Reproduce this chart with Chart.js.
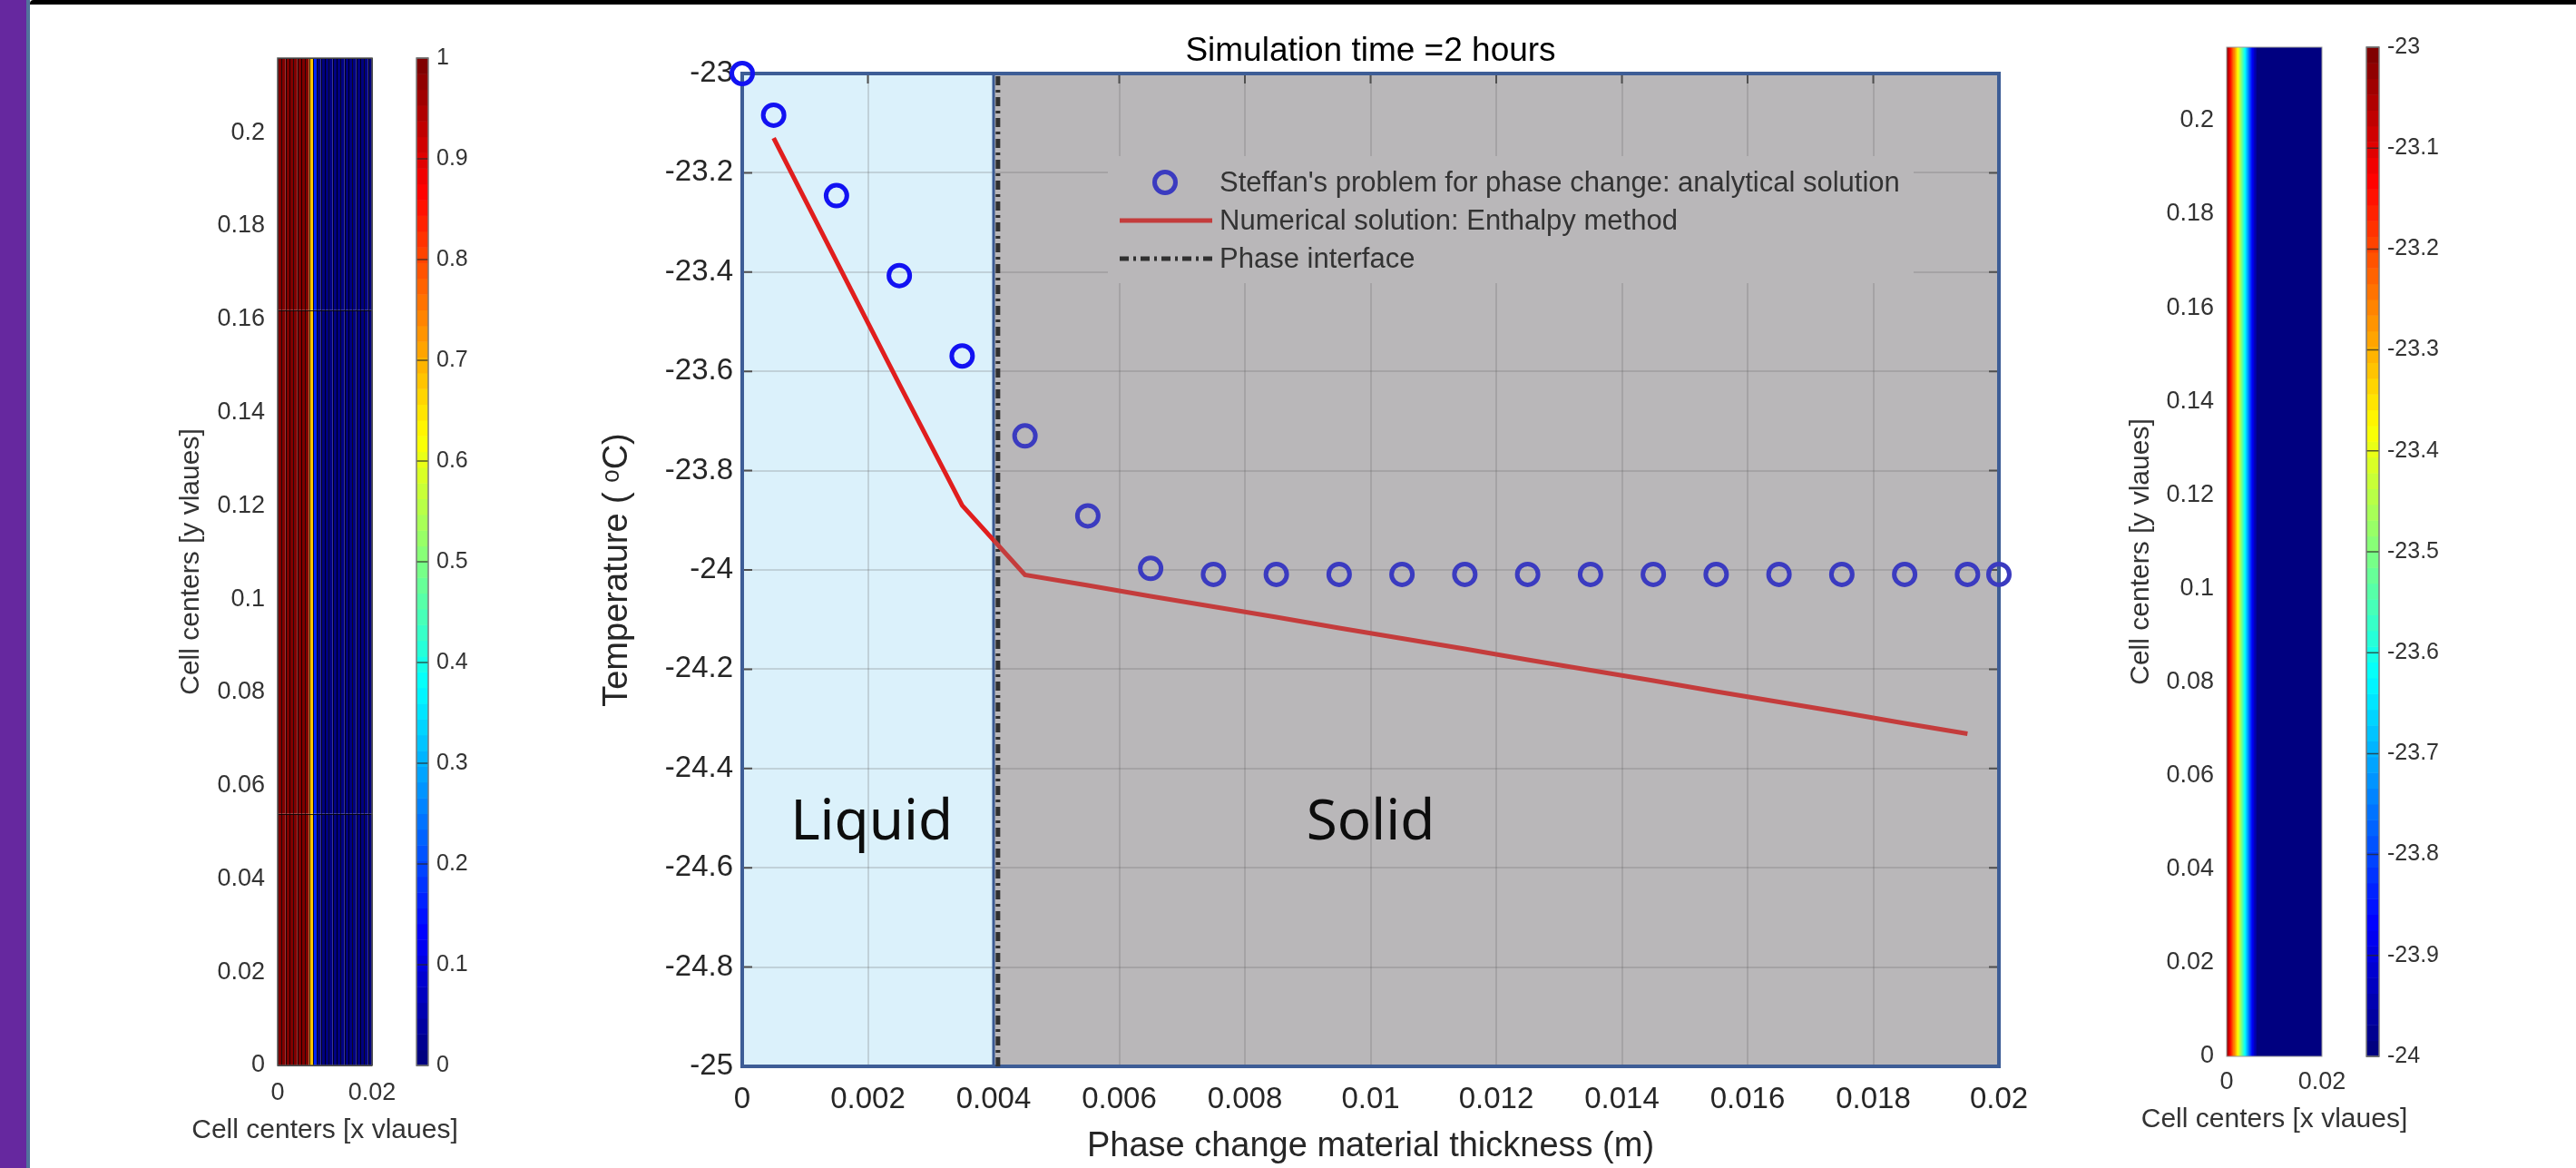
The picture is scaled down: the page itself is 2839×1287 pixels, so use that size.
<!DOCTYPE html>
<html>
<head>
<meta charset="utf-8">
<title>Simulation time =2 hours</title>
<script src="https://cdn.jsdelivr.net/npm/chart.js@4.4.1/dist/chart.umd.min.js"></script>
<style>
  html, body { margin: 0; padding: 0; background: #fff; }
  #page { position: relative; width: 2839px; height: 1287px; overflow: hidden; background: #fff; }
  #page canvas { position: absolute; left: 0; top: 0; }
  .strip { position: absolute; left: 0; top: 0; width: 29px; height: 1287px; background: #66289f; }
  .edge { position: absolute; left: 29px; top: 0; width: 4px; height: 1287px; background: #52729c; }
  .topbar { position: absolute; left: 33px; top: 0; right: 0; height: 5px; background: #000; border-top-left-radius: 4px; }
</style>
</head>
<body>
<div id="page">
  <div class="strip"></div>
  <div class="edge"></div>
  <div class="topbar"></div>
  <canvas id="heatL" width="2839" height="1287"></canvas>
  <canvas id="barL" width="2839" height="1287"></canvas>
  <canvas id="main" width="2839" height="1287"></canvas>
  <canvas id="heatR" width="2839" height="1287"></canvas>
  <canvas id="barR" width="2839" height="1287"></canvas>
</div>
<script>
/*---------------------------------
   DATA
 ----------------------------------*/
// Stefan problem, analytical solution (circles)
var xAnalytical = [0, 0.0005, 0.0015, 0.0025, 0.0035, 0.0045, 0.0055, 0.0065, 0.0075, 0.0085, 0.0095,
    0.0105, 0.0115, 0.0125, 0.0135, 0.0145, 0.0155, 0.0165, 0.0175, 0.0185, 0.0195, 0.02];
var tAnalytical = [-23.0, -23.084, -23.246, -23.407, -23.569, -23.73, -23.891, -23.997, -24.009, -24.009, -24.009,
    -24.009, -24.009, -24.009, -24.009, -24.009, -24.009, -24.009, -24.009, -24.009, -24.009, -24.009];

// enthalpy method, numerical solution (red line)
var xNumerical = [0.0005, 0.0015, 0.0025, 0.0035, 0.0045, 0.0055, 0.0065, 0.0075, 0.0085, 0.0095,
    0.0105, 0.0115, 0.0125, 0.0135, 0.0145, 0.0155, 0.0165, 0.0175, 0.0185, 0.0195];
var tNumerical = [-23.13, -23.378, -23.626, -23.87, -24.01, -24.031, -24.053, -24.074, -24.095, -24.117,
    -24.138, -24.159, -24.181, -24.202, -24.223, -24.245, -24.266, -24.287, -24.309, -24.33];

// phase interface
var xInterface = [0.00407, 0.00407];
var tInterface = [-25, -23];

var liquidRange = [0, 0.004];
var solidRange = [0.004, 0.02];
var regionNames = ['Liquid', 'Solid'];
var regionLabelX = [0.00206, 0.01];
var regionLabelT = -24.51;

var mainXTicks = [0, 0.002, 0.004, 0.006, 0.008, 0.01, 0.012, 0.014, 0.016, 0.018, 0.02];
var mainYTicks = [-25, -24.8, -24.6, -24.4, -24.2, -24, -23.8, -23.6, -23.4, -23.2, -23];

// liquid fraction field (left, faceted cells)
var cellEdgesX = [0, 0.00083, 0.00167, 0.0025, 0.00333, 0.00417, 0.005, 0.00583, 0.00667, 0.0075, 0.00833,
    0.00917, 0.01, 0.01083, 0.01167, 0.0125, 0.01333, 0.01417, 0.015, 0.01583, 0.01667, 0.0175, 0.01833,
    0.01917, 0.02];
var cellEdgesY = [0, 0.054, 0.162, 0.216];
var liquidFraction = [1, 1, 1, 1, 1, 1, 1, 1, 0.68, 0.16, 0, 0, 0, 0, 0, 0, 0, 0, 0, 0, 0, 0, 0, 0];

// temperature field (right, interpolated shading) uses xAnalytical / tAnalytical
var fieldTopY = 0.2157;

var heatXTicks = [0, 0.02];
var heatYTicks = [0, 0.02, 0.04, 0.06, 0.08, 0.1, 0.12, 0.14, 0.16, 0.18, 0.2];
var fractionTicks = [0, 0.1, 0.2, 0.3, 0.4, 0.5, 0.6, 0.7, 0.8, 0.9, 1];
var tempTicks = [-24, -23.9, -23.8, -23.7, -23.6, -23.5, -23.4, -23.3, -23.2, -23.1, -23];

/*---------------------------------
   HELPERS
 ----------------------------------*/
var FONT = "'Liberation Sans', Arial, 'DejaVu Sans', sans-serif";

function fixW(w) { return function (s) { s.width = w; }; }
function fixH(h) { return function (s) { s.height = h; }; }
function setTicks(list) {
    return function (s) { s.ticks = list.map(function (v) { return { value: v }; }); };
}
function fmt(v) { return String(+Number(v).toFixed(4)); }

function jet(v) {
    v = Math.max(0, Math.min(1, v));
    var r = Math.max(0, Math.min(1, 1.5 - Math.abs(4 * v - 3)));
    var g = Math.max(0, Math.min(1, 1.5 - Math.abs(4 * v - 2)));
    var b = Math.max(0, Math.min(1, 1.5 - Math.abs(4 * v - 1)));
    return 'rgb(' + Math.round(r * 255) + ',' + Math.round(g * 255) + ',' + Math.round(b * 255) + ')';
}
function jet64(v) {
    var k = Math.min(63, Math.floor(Math.max(0, Math.min(1, v)) * 64));
    return jet(k / 63);
}
function interp(xs, ys, x) {
    if (x <= xs[0]) return ys[0];
    for (var i = 1; i < xs.length; i++) {
        if (x <= xs[i]) {
            var t = (x - xs[i - 1]) / (xs[i] - xs[i - 1]);
            return ys[i - 1] + t * (ys[i] - ys[i - 1]);
        }
    }
    return ys[ys.length - 1];
}
function pts(xs, ys) { return xs.map(function (x, i) { return { x: x, y: ys[i] }; }); }

var base = {
    responsive: false,
    animation: false,
    devicePixelRatio: 1,
    events: []
};
function opts(extra) { return Object.assign({}, base, extra); }

/*---------------------------------
   HEATMAP PLUGINS
 ----------------------------------*/
var facetedCells = {
    id: 'facetedCells',
    beforeDatasetsDraw: function (chart) {
        var ctx = chart.ctx, xs = chart.scales.x, ys = chart.scales.y, a = chart.chartArea;
        ctx.save();
        for (var j = 0; j < cellEdgesY.length - 1; j++) {
            var y0 = ys.getPixelForValue(cellEdgesY[j]), y1 = ys.getPixelForValue(cellEdgesY[j + 1]);
            for (var i = 0; i < liquidFraction.length; i++) {
                var x0 = xs.getPixelForValue(cellEdgesX[i]), x1 = xs.getPixelForValue(cellEdgesX[i + 1]);
                ctx.fillStyle = jet64(liquidFraction[i]);
                ctx.fillRect(x0, y1, x1 - x0, y0 - y1);
            }
        }
        ctx.strokeStyle = 'rgba(0,0,0,0.8)';
        ctx.lineWidth = 1;
        ctx.beginPath();
        cellEdgesX.forEach(function (v) {
            var p = Math.round(xs.getPixelForValue(v)) + 0.5;
            ctx.moveTo(p, a.top); ctx.lineTo(p, a.bottom);
        });
        cellEdgesY.forEach(function (v) {
            var p = Math.round(ys.getPixelForValue(v)) + 0.5;
            ctx.moveTo(a.left, p); ctx.lineTo(a.right, p);
        });
        ctx.stroke();
        ctx.strokeStyle = '#555';
        ctx.lineWidth = 1.5;
        ctx.strokeRect(a.left, a.top, a.right - a.left, a.bottom - a.top);
        ctx.restore();
    }
};

var smoothField = {
    id: 'smoothField',
    beforeDatasetsDraw: function (chart) {
        var ctx = chart.ctx, xs = chart.scales.x, a = chart.chartArea;
        ctx.save();
        for (var px = Math.floor(a.left); px < a.right; px++) {
            var v = xs.getValueForPixel(px + 0.5);
            var t = interp(xAnalytical, tAnalytical, v);
            ctx.fillStyle = jet64(t + 24);
            ctx.fillRect(px, a.top, 1, a.bottom - a.top);
        }
        ctx.strokeStyle = '#9a9a9a';
        ctx.lineWidth = 1;
        ctx.strokeRect(a.left, a.top, a.right - a.left, a.bottom - a.top);
        ctx.restore();
    }
};

// x-axis caption wider than the narrow heatmap axes
var xCaption = {
    id: 'xCaption',
    afterDraw: function (chart, args, o) {
        var a = chart.chartArea, ctx = chart.ctx;
        ctx.save();
        ctx.fillStyle = '#333';
        ctx.font = '30px ' + FONT;
        ctx.textAlign = 'center';
        ctx.textBaseline = 'middle';
        ctx.fillText(o.text, (a.left + a.right) / 2 + (o.dx || 0), o.y);
        ctx.restore();
    }
};

var colorStrip = {
    id: 'colorStrip',
    beforeDatasetsDraw: function (chart) {
        var ctx = chart.ctx, ys = chart.scales.y, a = chart.chartArea;
        var lo = ys.min, hi = ys.max;
        ctx.save();
        for (var k = 0; k < 64; k++) {
            var p0 = ys.getPixelForValue(lo + (hi - lo) * k / 64);
            var p1 = ys.getPixelForValue(lo + (hi - lo) * (k + 1) / 64);
            ctx.fillStyle = jet(k / 63);
            ctx.fillRect(a.left, p1, a.right - a.left, p0 - p1 + 0.5);
        }
        ctx.strokeStyle = 'rgba(40,40,40,0.75)';
        ctx.lineWidth = 1.5;
        ctx.beginPath();
        ys.ticks.forEach(function (t) {
            var p = ys.getPixelForValue(t.value);
            ctx.moveTo(a.left, p); ctx.lineTo(a.right, p);
        });
        ctx.stroke();
        ctx.strokeStyle = '#7a7a7a';
        ctx.lineWidth = 1.5;
        ctx.strokeRect(a.left, a.top, a.right - a.left, a.bottom - a.top);
        ctx.restore();
    }
};

function heatScales(top, yW, xH, tickPadX) {
    return {
        x: {
            type: 'linear', min: 0, max: 0.02,
            afterBuildTicks: setTicks(heatXTicks), afterFit: fixH(xH),
            grid: { display: false, drawTicks: false }, border: { display: false },
            ticks: { padding: tickPadX, color: '#333', font: { family: FONT, size: 27 }, callback: fmt, maxRotation: 0, autoSkip: false }
        },
        y: {
            type: 'linear', min: 0, max: top,
            afterBuildTicks: setTicks(heatYTicks), afterFit: fixW(yW),
            grid: { display: false, drawTicks: false }, border: { display: false },
            ticks: { padding: 14, color: '#333', font: { family: FONT, size: 27 }, callback: fmt, autoSkip: false },
            title: { display: true, text: 'Cell centers [y vlaues]', color: '#333', font: { family: FONT, size: 30, lineHeight: 1 }, padding: 0 }
        }
    };
}

function barScales(lo, hi, list) {
    return {
        x: { type: 'linear', display: false, min: 0, max: 1 },
        y: {
            type: 'linear', position: 'right', min: lo, max: hi,
            afterBuildTicks: setTicks(list), afterFit: fixW(150),
            grid: { display: false, drawTicks: false }, border: { display: false },
            ticks: { padding: 9, color: '#333', font: { family: FONT, size: 25 }, callback: fmt, autoSkip: false }
        }
    };
}

var noPlugins = { legend: { display: false }, title: { display: false }, tooltip: { enabled: false } };
function withCaption(y) {
    return Object.assign({}, noPlugins, { xCaption: { text: 'Cell centers [x vlaues]', y: y } });
}

/*---------------------------------
   LEFT: LIQUID FRACTION
 ----------------------------------*/
new Chart(document.getElementById('heatL'), {
    type: 'scatter',
    data: { datasets: [] },
    options: opts({
        layout: { padding: { left: 195.5, right: 2429, top: 64, bottom: 26.5 } },
        plugins: withCaption(1246),
        scales: heatScales(cellEdgesY[cellEdgesY.length - 1], 110.5, 86.5, 14)
    }),
    plugins: [facetedCells, xCaption]
});

new Chart(document.getElementById('barL'), {
    type: 'scatter',
    data: { datasets: [] },
    options: opts({
        layout: { padding: { left: 459, right: 2839 - 472 - 150, top: 64, bottom: 113 } },
        plugins: noPlugins,
        scales: barScales(0, 1, fractionTicks)
    }),
    plugins: [colorStrip]
});

/*---------------------------------
   RIGHT: TEMPERATURE FIELD
 ----------------------------------*/
new Chart(document.getElementById('heatR'), {
    type: 'scatter',
    data: { datasets: [] },
    options: opts({
        layout: { padding: { left: 2344.5, right: 280, top: 52, bottom: 38.5 } },
        plugins: withCaption(1234),
        scales: heatScales(fieldTopY, 109.5, 84.5, 12)
    }),
    plugins: [smoothField, xCaption]
});

new Chart(document.getElementById('barR'), {
    type: 'scatter',
    data: { datasets: [] },
    options: opts({
        layout: { padding: { left: 2608, right: 2839 - 2622 - 150, top: 52, bottom: 1287 - 1164 } },
        plugins: noPlugins,
        scales: barScales(-24, -23, tempTicks)
    }),
    plugins: [colorStrip]
});

/*---------------------------------
   MAIN PLOT
 ----------------------------------*/
var LIQ_BLUE = '#1212f2', SOL_BLUE = '#3b3bc0';
var LIQ_RED = '#e01e1e', SOL_RED = '#c43c3c';

function redSplit(c) {
    var ch = c.chart, a = ch.chartArea;
    if (!a || !ch.scales.x) return SOL_RED;
    var px = ch.scales.x.getPixelForValue(liquidRange[1]);
    var f = Math.max(0, Math.min(1, (px - a.left) / (a.right - a.left)));
    var g = ch.ctx.createLinearGradient(a.left, 0, a.right, 0);
    g.addColorStop(0, LIQ_RED); g.addColorStop(f, LIQ_RED);
    g.addColorStop(f, SOL_RED); g.addColorStop(1, SOL_RED);
    return g;
}

var phasePlot = {
    id: 'phasePlot',
    beforeDraw: function (chart) {
        var a = chart.chartArea, xs = chart.scales.x, ctx = chart.ctx;
        var l0 = xs.getPixelForValue(liquidRange[0]), l1 = xs.getPixelForValue(liquidRange[1]);
        var s1 = xs.getPixelForValue(solidRange[1]);
        ctx.save();
        ctx.fillStyle = '#dbf1fb';
        ctx.fillRect(l0, a.top, l1 - l0, a.bottom - a.top);
        ctx.fillStyle = '#b9b7b9';
        ctx.fillRect(l1, a.top, s1 - l1, a.bottom - a.top);
        ctx.restore();
    },
    beforeDatasetsDraw: function (chart) {
        var a = chart.chartArea, xs = chart.scales.x, ys = chart.scales.y, ctx = chart.ctx;
        ctx.save();
        // inward tick marks
        ctx.strokeStyle = '#505050';
        ctx.lineWidth = 2;
        ctx.beginPath();
        xs.ticks.forEach(function (t) {
            var p = xs.getPixelForValue(t.value);
            ctx.moveTo(p, a.top); ctx.lineTo(p, a.top + 11);
        });
        ys.ticks.forEach(function (t) {
            var p = ys.getPixelForValue(t.value);
            ctx.moveTo(a.left, p); ctx.lineTo(a.left + 11, p);
            ctx.moveTo(a.right, p); ctx.lineTo(a.right - 11, p);
        });
        ctx.stroke();
        // liquid box and axes frame
        var l0 = xs.getPixelForValue(liquidRange[0]), l1 = xs.getPixelForValue(liquidRange[1]);
        ctx.strokeStyle = '#3a5a94';
        ctx.lineWidth = 3;
        ctx.strokeRect(l0, a.top, l1 - l0, a.bottom - a.top);
        ctx.strokeStyle = '#3d5d96';
        ctx.lineWidth = 4;
        ctx.strokeRect(a.left, a.top, a.right - a.left, a.bottom - a.top);
        ctx.restore();
    },
    afterDatasetsDraw: function (chart) {
        var a = chart.chartArea, xs = chart.scales.x, ys = chart.scales.y, ctx = chart.ctx;
        var ds = chart.data.datasets;
        ctx.save();
        // region names
        ctx.fillStyle = '#0d0d0d';
        ctx.font = "62px 'Noto Sans', 'Open Sans', sans-serif";
        ctx.textAlign = 'center';
        ctx.textBaseline = 'middle';
        regionNames.forEach(function (n, i) {
            ctx.fillText(n, xs.getPixelForValue(regionLabelX[i]), ys.getPixelForValue(regionLabelT));
        });
        // legend
        ctx.fillStyle = '#b9b7b9';
        ctx.fillRect(1221, 172, 888, 140);
        var rows = [201, 243, 285];
        ctx.font = '31px ' + FONT;
        ctx.textAlign = 'left';
        ds.forEach(function (d, i) {
            var y = rows[i];
            ctx.lineCap = 'butt';
            if (d.showLine === false) {
                ctx.strokeStyle = SOL_BLUE;
                ctx.lineWidth = d.pointBorderWidth;
                ctx.beginPath();
                ctx.arc(1284, y, d.pointRadius, 0, Math.PI * 2);
                ctx.stroke();
            } else {
                ctx.strokeStyle = i === 1 ? SOL_RED : d.borderColor;
                ctx.lineWidth = d.borderWidth;
                ctx.setLineDash(d.borderDash || []);
                ctx.beginPath();
                ctx.moveTo(1234, y); ctx.lineTo(1336, y);
                ctx.stroke();
                ctx.setLineDash([]);
            }
            ctx.fillStyle = '#333';
            ctx.fillText(d.label, 1344, y + 1);
        });
        // title
        ctx.fillStyle = '#000';
        ctx.font = '37px ' + FONT;
        ctx.textAlign = 'center';
        ctx.fillText('Simulation time =2 hours', (a.left + a.right) / 2, 57);
        ctx.restore();
    }
};

new Chart(document.getElementById('main'), {
    type: 'scatter',
    data: {
        datasets: [{
            label: "Steffan's problem for phase change: analytical solution",
            data: pts(xAnalytical, tAnalytical),
            showLine: false,
            pointStyle: 'circle',
            pointRadius: 11.5,
            pointBorderWidth: 5,
            pointBackgroundColor: 'rgba(0,0,0,0)',
            pointBorderColor: function (c) {
                return c.parsed && c.parsed.x < liquidRange[1] ? LIQ_BLUE : SOL_BLUE;
            },
            clip: false,
            order: 0
        }, {
            label: 'Numerical solution: Enthalpy method',
            data: pts(xNumerical, tNumerical),
            showLine: true,
            borderColor: redSplit,
            borderWidth: 5,
            pointRadius: 0,
            tension: 0,
            order: 1
        }, {
            label: 'Phase interface',
            data: pts(xInterface, tInterface),
            showLine: true,
            borderColor: '#303030',
            borderWidth: 5,
            borderDash: [10, 5, 3, 5],
            pointRadius: 0,
            order: 2
        }]
    },
    options: opts({
        layout: { padding: { left: 662, right: 636, top: 81, bottom: 4.5 } },
        plugins: noPlugins,
        scales: {
            x: {
                type: 'linear', min: 0, max: 0.02,
                afterBuildTicks: setTicks(mainXTicks), afterFit: fixH(107.5),
                grid: { color: 'rgba(95,95,95,0.22)', lineWidth: 2, drawTicks: false },
                border: { display: false },
                ticks: { padding: 17, color: '#262626', font: { family: FONT, size: 33 }, callback: fmt, maxRotation: 0, autoSkip: false },
                title: { display: true, text: 'Phase change material thickness (m)', color: '#262626', font: { family: FONT, size: 38, lineHeight: 1 }, padding: 0 }
            },
            y: {
                type: 'linear', min: -25, max: -23,
                afterBuildTicks: setTicks(mainYTicks), afterFit: fixW(156),
                grid: { color: 'rgba(95,95,95,0.22)', lineWidth: 2, drawTicks: false },
                border: { display: false },
                ticks: { padding: 10, color: '#262626', font: { family: FONT, size: 33 }, callback: fmt, autoSkip: false },
                title: { display: true, text: 'Temperature ( \u1D52C)', color: '#262626', font: { family: FONT, size: 38, lineHeight: 1 }, padding: 0 }
            }
        }
    }),
    plugins: [phasePlot]
});
</script>
</body>
</html>
